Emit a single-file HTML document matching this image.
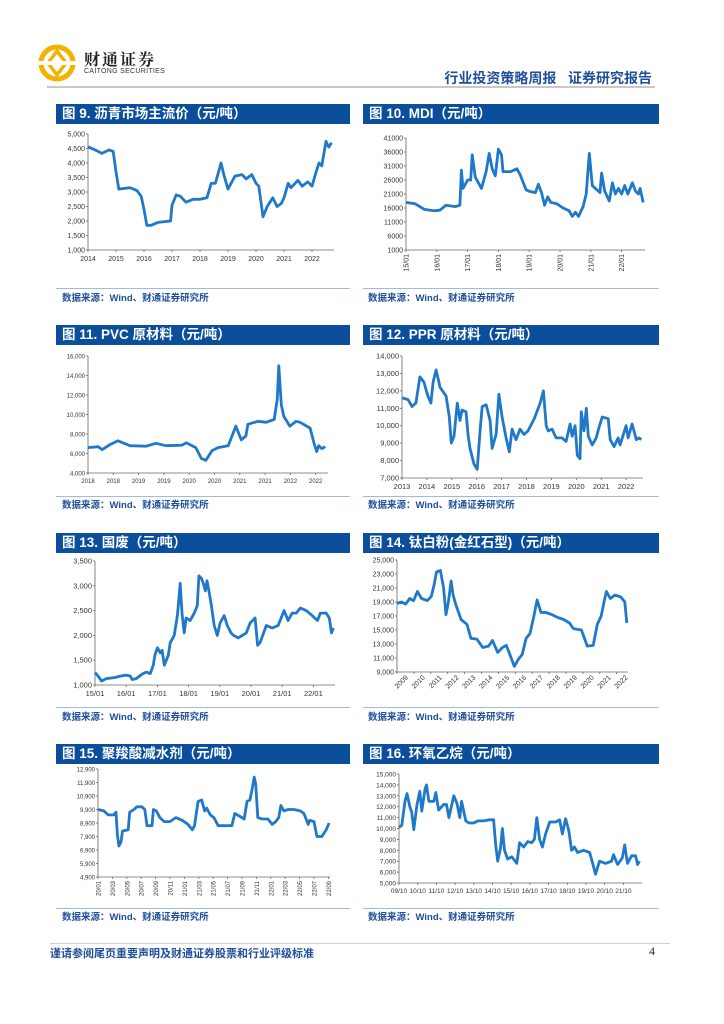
<!DOCTYPE html>
<html><head><meta charset="utf-8">
<style>
body{margin:0;background:#fff;}
#page{position:relative;width:724px;height:1024px;overflow:hidden;background:#fff;font-family:"Liberation Sans","Noto Sans CJK SC",sans-serif;}
.tbar{position:absolute;height:20px;background:#0b4f9c;color:#fff;font-weight:bold;font-size:13.5px;line-height:20px;padding-left:6px;box-sizing:border-box;white-space:nowrap;}
.src{position:absolute;font-size:9.5px;font-weight:bold;color:#1f4e9a;white-space:nowrap;}
.sep{position:absolute;height:1px;background:#9fbbe0;}
svg{position:absolute;left:0;top:0;}
text{font-family:"Liberation Sans",sans-serif;}
</style></head><body>
<div id="page">
<svg id="logo" width="724" height="100" viewBox="0 0 724 100">
 <circle cx="57" cy="63" r="16" fill="none" stroke="#f3b200" stroke-width="5"/>
 <path d="M57 51 L66 63 L57 75 L48 63 Z" fill="none" stroke="#f3b200" stroke-width="3.5"/>
 <rect x="38" y="61" width="38" height="4" fill="#fff"/>
</svg>
<div style="position:absolute;left:84px;top:47px;font-size:16px;font-weight:bold;letter-spacing:2px;font-family:'Noto Serif CJK SC','Noto Sans CJK SC',serif;color:#222;">财通证券</div>
<div style="position:absolute;left:84px;top:68px;font-size:7px;color:#333;letter-spacing:0.3px;">CAITONG SECURITIES</div>
<div style="position:absolute;right:72px;top:68px;font-size:14px;font-weight:bold;color:#1f4e9a;font-family:'Liberation Sans','Noto Sans CJK SC',sans-serif;">行业投资策略周报&nbsp;&nbsp;&nbsp;证券研究报告</div>
<div style="position:absolute;left:47px;top:86px;width:608px;height:2px;background:#c8c8c8;"></div>

<div class="tbar" style="left:56px;top:104px;width:294px;">图 9. 沥青市场主流价（元/吨）</div>
<div class="tbar" style="left:363px;top:104px;width:296px;">图 10. MDI（元/吨）</div>
<div class="tbar" style="left:56px;top:325px;width:294px;">图 11. PVC 原材料（元/吨）</div>
<div class="tbar" style="left:363px;top:325px;width:296px;">图 12. PPR 原材料（元/吨）</div>
<div class="tbar" style="left:56px;top:533px;width:294px;">图 13. 国废（元/吨）</div>
<div class="tbar" style="left:363px;top:533px;width:296px;">图 14. 钛白粉(金红石型)（元/吨）</div>
<div class="tbar" style="left:56px;top:744px;width:294px;">图 15. 聚羧酸减水剂（元/吨）</div>
<div class="tbar" style="left:363px;top:744px;width:296px;">图 16. 环氧乙烷（元/吨）</div>

<div class="sep" style="left:56px;top:288px;width:294px;"></div>
<div class="sep" style="left:363px;top:288px;width:296px;"></div>
<div class="sep" style="left:56px;top:496px;width:294px;"></div>
<div class="sep" style="left:363px;top:496px;width:296px;"></div>
<div class="sep" style="left:56px;top:707px;width:294px;"></div>
<div class="sep" style="left:363px;top:707px;width:296px;"></div>
<div class="sep" style="left:56px;top:908px;width:294px;"></div>
<div class="sep" style="left:363px;top:908px;width:296px;"></div>

<div class="src" style="left:62px;top:290px;">数据来源：Wind、财通证券研究所</div>
<div class="src" style="left:368px;top:290px;">数据来源：Wind、财通证券研究所</div>
<div class="src" style="left:62px;top:497px;">数据来源：Wind、财通证券研究所</div>
<div class="src" style="left:368px;top:497px;">数据来源：Wind、财通证券研究所</div>
<div class="src" style="left:62px;top:709px;">数据来源：Wind、财通证券研究所</div>
<div class="src" style="left:368px;top:709px;">数据来源：Wind、财通证券研究所</div>
<div class="src" style="left:62px;top:909px;">数据来源：Wind、财通证券研究所</div>
<div class="src" style="left:368px;top:909px;">数据来源：Wind、财通证券研究所</div>

<div style="position:absolute;left:50px;top:943px;width:620px;height:1px;background:#d0d0d0;"></div>
<div style="position:absolute;left:50px;top:945px;font-size:11px;font-weight:bold;color:#1f4e9a;">谨请参阅尾页重要声明及财通证券股票和行业评级标准</div>
<div style="position:absolute;left:649px;top:944px;font-size:12px;font-family:'Liberation Serif',serif;color:#222;">4</div>

<svg id="charts" width="724" height="1024" viewBox="0 0 724 1024"></svg>
</div>
<script>
// ---- Fig 9 asphalt ----
const c9T=[2014.00,2014.25,2014.50,2014.75,2014.90,2015.00,2015.10,2015.50,2015.75,2015.90,2016.00,2016.10,2016.25,2016.50,2016.75,2016.95,2017.00,2017.15,2017.30,2017.50,2017.75,2018.00,2018.25,2018.40,2018.55,2018.75,2018.85,2019.00,2019.25,2019.50,2019.65,2019.85,2020.00,2020.10,2020.25,2020.40,2020.60,2020.75,2020.90,2021.00,2021.15,2021.25,2021.50,2021.65,2021.85,2022.00,2022.15,2022.25,2022.35,2022.50,2022.60,2022.70];
const c9V=[4560,4450,4330,4450,4400,3700,3100,3150,3050,2850,2400,1850,1850,1950,1980,2000,2550,2900,2850,2650,2750,2750,2800,3300,3300,4000,3600,3100,3550,3600,3450,3600,3300,3200,2150,2500,2800,2500,2600,2800,3300,3150,3400,3200,3350,3200,3700,4000,3900,4750,4550,4700];
const c9YTicks=[1000,1500,2000,2500,3000,3500,4000,4500,5000];
const c9XLabels=["2014","2015","2016","2017","2018","2019","2020","2021","2022"];
// ---- Fig 10 MDI ----
const c10T=[2015.0,2015.3,2015.6,2015.9,2016.1,2016.3,2016.6,2016.75,2016.8,2016.85,2017.0,2017.1,2017.15,2017.25,2017.45,2017.6,2017.7,2017.8,2017.9,2018.0,2018.1,2018.15,2018.4,2018.6,2018.7,2018.9,2019.0,2019.2,2019.3,2019.4,2019.5,2019.6,2019.7,2019.9,2020.1,2020.3,2020.4,2020.5,2020.6,2020.75,2020.85,2020.95,2021.05,2021.15,2021.3,2021.35,2021.45,2021.6,2021.7,2021.8,2021.9,2022.0,2022.1,2022.2,2022.35,2022.45,2022.55,2022.6,2022.7];
const c10V=[18000,17500,15500,15000,15200,17000,16500,17000,29500,23000,26000,26000,35000,27000,23000,29000,35500,30000,27500,37000,35000,29000,29000,30000,28000,22500,22000,21500,24500,21500,17000,20000,18000,17500,16000,15000,13000,14500,13000,16500,21000,35500,24000,23000,21500,28500,22000,18500,25000,21000,23000,21000,24000,21000,25000,22000,21000,23000,18000];
const c10YTicks=[1000,6000,11000,16000,21000,26000,31000,36000,41000];
const c10XLabels=["15/01","16/01","17/01","18/01","19/01","20/01","21/01","22/01"];
// ---- Fig 11 PVC ----
const c11T=[2018.00,2018.20,2018.28,2018.43,2018.59,2018.83,2019.15,2019.34,2019.54,2019.86,2019.94,2020.13,2020.24,2020.33,2020.45,2020.57,2020.77,2020.92,2021.03,2021.12,2021.16,2021.36,2021.52,2021.68,2021.74,2021.77,2021.82,2021.87,2021.99,2022.11,2022.19,2022.39,2022.47,2022.52,2022.56,2022.62,2022.69];
const c11V=[6600,6700,6400,6900,7300,6800,6750,7050,6800,6850,7100,6600,5500,5300,6300,6600,6800,8800,7400,7800,9000,9300,9200,9500,11500,15000,11000,9800,8800,9300,9200,8600,7000,6200,6800,6500,6700];
const c11YTicks=[4000,6000,8000,10000,12000,14000,16000];
const c11XLabels=["2018","2018","2019","2019","2020","2020","2021","2021","2022","2022"];
// ---- Fig 12 PPR ----
const c12T=[2013.00,2013.24,2013.40,2013.56,2013.72,2013.88,2014.04,2014.16,2014.25,2014.37,2014.53,2014.77,2014.90,2014.98,2015.09,2015.22,2015.33,2015.41,2015.57,2015.65,2015.73,2015.89,2016.02,2016.14,2016.22,2016.38,2016.54,2016.62,2016.78,2016.89,2017.02,2017.18,2017.31,2017.42,2017.58,2017.74,2017.90,2018.06,2018.31,2018.55,2018.68,2018.79,2018.87,2019.03,2019.19,2019.43,2019.59,2019.75,2019.83,2019.95,2020.04,2020.15,2020.20,2020.31,2020.40,2020.48,2020.64,2020.80,2020.91,2021.04,2021.28,2021.36,2021.52,2021.68,2021.76,2022.00,2022.08,2022.24,2022.41,2022.52,2022.61];
const c12V=[11600,11500,11100,11300,12800,12500,11700,11300,12500,13200,12200,11700,10500,9000,9400,11300,10300,10900,10800,9500,8700,7800,7500,9800,11100,11200,10300,8700,9500,11800,10500,9300,8500,9800,9200,9800,9500,9700,10400,11300,12000,10000,9700,9800,9300,9300,9100,10100,9400,10000,8300,8100,10800,9700,11000,9400,8900,9300,9900,10500,10400,9200,8800,9300,8900,10000,9300,10100,9200,9300,9200];
const c12YTicks=[7000,8000,9000,10000,11000,12000,13000,14000];
const c12XLabels=["2013","2014","2015","2016","2017","2018","2019","2020","2021","2022"];
// ---- Fig 13 waste paper ----
const c13T=[15.00,15.10,15.21,15.36,15.62,15.81,16.00,16.13,16.19,16.32,16.51,16.64,16.77,16.87,16.92,17.00,17.09,17.15,17.22,17.35,17.41,17.54,17.64,17.73,17.79,17.86,17.92,18.05,18.18,18.28,18.33,18.41,18.47,18.54,18.59,18.65,18.73,18.82,18.92,19.01,19.14,19.24,19.36,19.44,19.59,19.85,19.97,20.13,20.21,20.29,20.49,20.68,20.87,21.06,21.19,21.32,21.45,21.58,21.77,21.96,22.13,22.22,22.41,22.51,22.58,22.64];
const c13V=[1250,1180,1080,1130,1150,1180,1200,1180,1110,1130,1220,1260,1230,1400,1600,1750,1650,1700,1400,1600,1850,2000,2400,3050,2450,2050,2350,2300,2450,2600,3200,3150,3050,2900,3100,2900,2600,2200,2000,2250,2400,2200,2050,2000,1950,2050,2250,2350,1800,1850,2200,2150,2200,2500,2300,2450,2450,2550,2500,2400,2300,2450,2450,2350,2050,2150];
const c13YTicks=[1000,1500,2000,2500,3000,3500];
const c13XLabels=["15/01","16/01","17/01","18/01","19/01","20/01","21/01","22/01"];
// ---- Fig 14 titanium dioxide ----
const c14T=[2009.00,2009.28,2009.51,2009.75,2009.98,2010.21,2010.45,2010.80,2011.03,2011.20,2011.34,2011.57,2011.76,2011.90,2012.04,2012.20,2012.32,2012.50,2012.79,2013.14,2013.37,2013.72,2014.07,2014.42,2014.65,2014.96,2015.24,2015.47,2015.71,2015.94,2016.18,2016.41,2016.64,2016.87,2017.10,2017.29,2017.52,2017.81,2018.16,2018.51,2018.86,2019.21,2019.44,2019.91,2020.26,2020.61,2020.85,2021.08,2021.25,2021.39,2021.62,2021.90,2022.25,2022.48,2022.60];
const c14V=[18800,19000,18700,19500,19200,20500,19500,19200,19800,21500,23300,23500,21000,17200,19000,22000,20000,18500,16500,15800,13800,13700,12500,12700,13500,11800,12500,12800,11300,9800,10800,11500,13800,14500,17000,19300,17500,17500,17200,16800,16500,16000,15200,15000,12700,12800,15800,17000,19000,20500,19500,20000,19700,19000,16000];
const c14YTicks=[9000,11000,13000,15000,17000,19000,21000,23000,25000];
const c14XLabels=["2009","2010","2011","2012","2013","2014","2015","2016","2017","2018","2019","2020","2021","2022"];
// ---- Fig 15 superplasticizer (months since 2020-01) ----
const c15M=[0,0.8,1.4,2.2,2.5,2.7,2.9,3.2,3.4,4.2,4.4,5,5.4,6.1,6.5,6.8,7.5,7.7,8.1,8.6,9.2,10,10.8,11.7,12.5,13.1,13.4,13.9,14.4,14.8,15.1,15.6,16.1,16.7,17.8,18.6,19,19.7,20.3,20.7,21.1,21.4,21.7,21.9,22.2,22.8,23.6,24.2,24.7,25.1,25.4,25.8,26.4,27.2,28.1,28.6,29.2,29.4,30,30.4,31.1,31.7,32.1];
const c15V=[9900,9800,9500,9500,9700,8000,7200,7500,8300,8400,9700,9900,10100,10100,9900,8700,8700,9900,9800,9300,9000,9000,9300,9100,8800,8400,8700,10500,10600,9800,10000,9500,9300,8700,8700,8700,9600,9400,9200,10500,10600,11400,12300,11800,9300,9200,9200,8800,9000,9300,10200,9800,9900,9900,9800,9600,8800,9100,9000,7900,7900,8400,8900];
const c15YTicks=[4900,5900,6900,7900,8900,9900,10900,11900,12900];
const c15XLabels=["20/01","20/03","20/05","20/07","20/09","20/11","21/01","21/03","21/05","21/07","21/09","21/11","22/01","22/03","22/05","22/07","22/09"];
// ---- Fig 16 ethylene oxide ----
const c16T=[9.75,9.90,10.07,10.18,10.33,10.43,10.54,10.71,10.86,10.97,11.14,11.22,11.35,11.61,11.72,11.87,12.14,12.29,12.42,12.68,12.85,13.00,13.10,13.32,13.49,13.75,13.96,14.28,14.60,14.81,14.92,15.03,15.18,15.28,15.39,15.56,15.78,16.05,16.20,16.42,16.63,16.84,16.99,17.12,17.27,17.42,17.59,17.81,18.13,18.34,18.49,18.66,18.83,18.98,19.13,19.30,19.62,19.94,20.11,20.26,20.47,20.80,21.12,21.22,21.44,21.69,21.82,21.97,22.19,22.40,22.51,22.61];
const c16V=[10100,10300,12500,13200,12000,11500,9900,12200,13400,11600,13600,14000,12500,12500,13300,11700,12200,12200,11000,13000,12300,11000,12500,10700,10500,10500,10700,10700,10800,10800,8500,7000,8200,10000,8000,7200,7400,6800,8700,8300,8800,8700,9000,11000,9000,8300,9500,10600,10600,10800,9500,10900,9800,8000,8300,7800,8000,7800,6800,5800,7000,6800,7000,7600,6700,7300,8500,6800,7500,7500,6700,7000];
const c16YTicks=[5000,6000,7000,8000,9000,10000,11000,12000,13000,14000,15000];
const c16XLabels=["09/10","10/10","11/10","12/10","13/10","14/10","15/10","16/10","17/10","18/10","19/10","20/10","21/10"];

const NS="http://www.w3.org/2000/svg";
const root=document.getElementById('charts');
function mk(tag,attrs,parent){const e=document.createElementNS(NS,tag);for(const k in attrs)e.setAttribute(k,attrs[k]);(parent||root).appendChild(e);return e;}
function fmt(v,comma){return comma?v.toLocaleString('en-US'):String(v);}

function drawChart(id,cfg,ts,vs,yTicks,xLabels){
  const g=mk('g',{});
  
  
  const xs=t=>cfg.x0+(t-cfg.t0)*cfg.px;
  const ys=v=>cfg.yBot-(v-cfg.yMin)/(cfg.yMax-cfg.yMin)*(cfg.yBot-cfg.yTop);
  const yAxis=mk('line',{x1:cfg.x0,y1:cfg.yTop,x2:cfg.x0,y2:cfg.yBot,stroke:'#666','stroke-width':0.8},g);
  
  
  const xAxis=mk('line',{x1:cfg.x0,y1:cfg.yBot,x2:cfg.xEnd,y2:cfg.yBot,stroke:'#666','stroke-width':0.8},g);
  
  
  yTicks.forEach(v=>{
    const y=ys(v);
    mk('line',{x1:cfg.x0-2,y1:y,x2:cfg.x0,y2:y,stroke:'#666','stroke-width':0.8},g);
    const t=mk('text',{x:cfg.x0-3,y:y+2.5,'text-anchor':'end','font-size':cfg.fs,fill:'#333'},g);
    t.textContent=fmt(v,cfg.comma);
    
    
  });
  xLabels.forEach((lab,i)=>{
    const tv=cfg.t0+i*cfg.lstep;
    const xt=xs(tv);
    mk('line',{x1:xt,y1:cfg.yBot,x2:xt,y2:cfg.yBot+2,stroke:'#666','stroke-width':0.8},g);
    const xl=xs(tv+cfg.loff);
    let t;
    if(cfg.rot===-90){
      t=mk('text',{x:0,y:0,'text-anchor':'end','font-size':cfg.fs,fill:'#333',transform:`translate(${xl+2.5},${cfg.yBot+4}) rotate(-90)`},g);
    }else if(cfg.rot===-45){
      t=mk('text',{x:0,y:0,'text-anchor':'end','font-size':cfg.fs,fill:'#333',transform:`translate(${xl+3},${cfg.yBot+6}) rotate(-45)`},g);
    }else{
      t=mk('text',{x:xl,y:cfg.yBot+cfg.ly,'text-anchor':'middle','font-size':cfg.fs,fill:'#333'},g);
    }
    t.textContent=lab;
    
    
  });
  let d='';
  ts.forEach((t,i)=>{d+=(i?'L':'M')+xs(t).toFixed(1)+' '+ys(vs[i]).toFixed(1);});
  const p=mk('path',{d:d,fill:'none',stroke:'#1f78c8','stroke-width':2.8,'stroke-linejoin':'round'},g);
  
  
}
drawChart('fig9',{x0:88,t0:2014,px:28.0,xEnd:334,yTop:134,yBot:250,yMin:1000,yMax:5000,fs:7,comma:true,lstep:1,loff:0,ly:11},c9T,c9V,c9YTicks,c9XLabels);
drawChart('fig10',{x0:406,t0:2015,px:30.8,xEnd:645,yTop:138,yBot:250,yMin:1000,yMax:41000,fs:7,comma:false,lstep:1,loff:0,rot:-90},c10T,c10V,c10YTicks,c10XLabels);
drawChart('fig11',{x0:88,t0:2018,px:50.6,xEnd:328,yTop:356,yBot:473,yMin:4000,yMax:16000,fs:6,comma:true,lstep:0.5,loff:0,ly:10},c11T,c11V,c11YTicks,c11XLabels);
drawChart('fig12',{x0:402,t0:2013,px:24.9,xEnd:643,yTop:356,yBot:478,yMin:7000,yMax:14000,fs:7.5,comma:true,lstep:1,loff:0,ly:11},c12T,c12V,c12YTicks,c12XLabels);
drawChart('fig13',{x0:95,t0:15,px:31.2,xEnd:335,yTop:561,yBot:685,yMin:1000,yMax:3500,fs:7.5,comma:true,lstep:1,loff:0,ly:11},c13T,c13V,c13YTicks,c13XLabels);
drawChart('fig14',{x0:397,t0:2009,px:16.9,xEnd:628,yTop:560,yBot:672,yMin:9000,yMax:25000,fs:7,comma:true,lstep:1,loff:0.5,rot:-45},c14T,c14V,c14YTicks,c14XLabels);
drawChart('fig15',{x0:98,t0:0,px:7.2,xEnd:330,yTop:769,yBot:877,yMin:4900,yMax:12900,fs:6,comma:true,lstep:2,loff:0,rot:-90},c15M,c15V,c15YTicks,c15XLabels);
drawChart('fig16',{x0:399,t0:9.75,px:18.7,xEnd:642,yTop:774,yBot:883,yMin:5000,yMax:15000,fs:6.5,comma:true,lstep:1,loff:0,ly:10},c16T,c16V,c16YTicks,c16XLabels);
</script>
</body></html>
